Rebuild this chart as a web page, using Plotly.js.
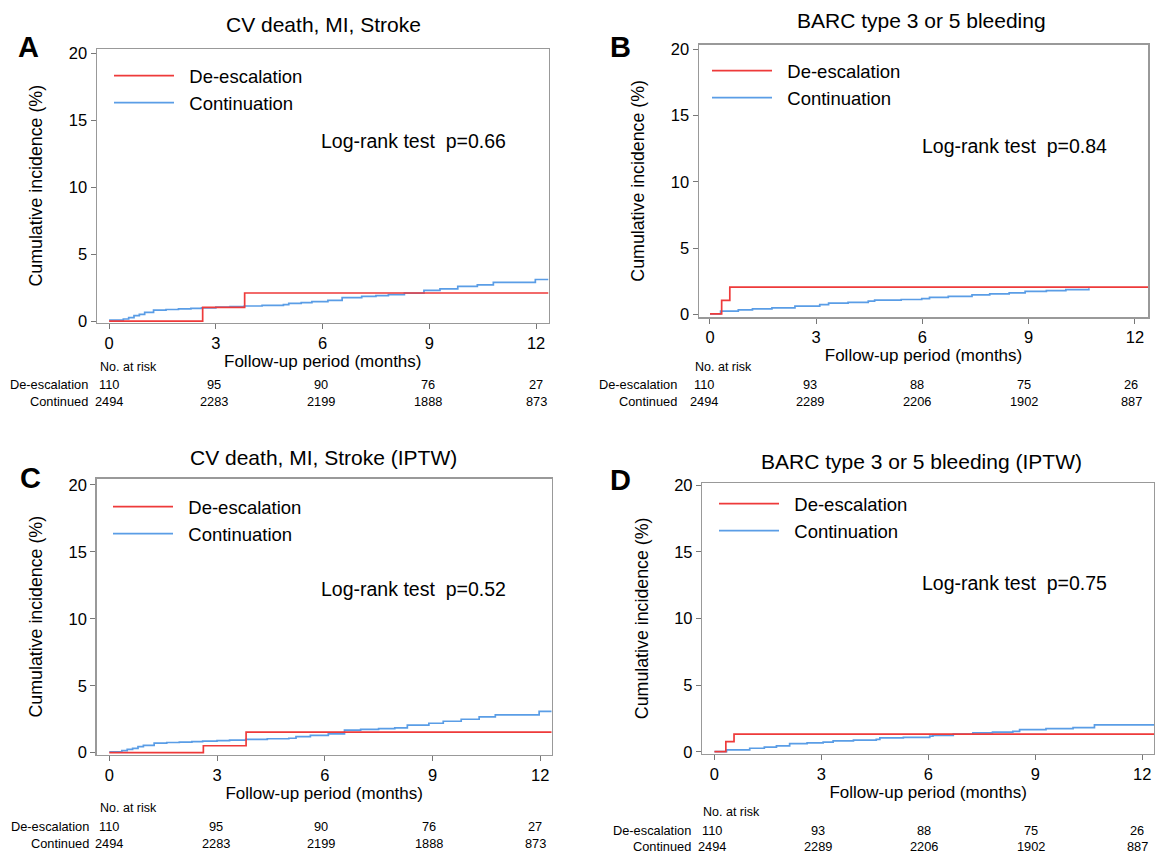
<!DOCTYPE html>
<html><head><meta charset="utf-8">
<script src="https://cdn.plot.ly/plotly-3.0.1.min.js"></script>
<style>html,body{margin:0;padding:0;background:#fff}#chart{width:1155px;height:853px}</style>
</head><body><div id="chart"></div>
<script>
// ---------------- DATA ----------------
const seriesNames = ['De-escalation', 'Continuation'];
const panelLetters = ['A', 'B', 'C', 'D'];
const panelTitles = ['CV death, MI, Stroke', 'BARC type 3 or 5 bleeding',
                     'CV death, MI, Stroke (IPTW)', 'BARC type 3 or 5 bleeding (IPTW)'];
const logRankP = ['0.66', '0.84', '0.52', '0.75'];
const xTickVals = [0, 3, 6, 9, 12];
const yTickVals = [0, 5, 10, 15, 20];
const xTitle = 'Follow-up period (months)';
const yTitle = 'Cumulative incidence (%)';
const riskHeader = 'No. at risk';
const riskRowLabels = ['De-escalation', 'Continued'];

// Numbers at risk (months 0, 3, 6, 9, 12)
const riskA_deesc = [110, 95, 90, 76, 27];
const riskA_cont  = [2494, 2283, 2199, 1888, 873];
const riskB_deesc = [110, 93, 88, 75, 26];
const riskB_cont  = [2494, 2289, 2206, 1902, 887];
const riskC_deesc = [110, 95, 90, 76, 27];
const riskC_cont  = [2494, 2283, 2199, 1888, 873];
const riskD_deesc = [110, 93, 88, 75, 26];
const riskD_cont  = [2494, 2289, 2206, 1902, 887];

// Panel A curves (months, cumulative incidence %)
const A_red_t  = [0, 2.63, 3.81, 12.35];
const A_red_y  = [0, 1.02, 2.09, 2.09];
const A_blue_t = [0, 0.4, 0.55, 0.7, 0.85, 1.0, 1.25, 1.6, 1.95, 2.3, 2.6, 3.0, 3.4, 3.8, 4.3, 4.9, 5.05, 5.4, 5.7, 6.15, 6.55, 7.1, 7.5, 7.85, 8.3, 8.85, 9.3, 9.8, 10.35, 10.8, 11.98, 12.35];
const A_blue_y = [0.07, 0.15, 0.25, 0.4, 0.5, 0.65, 0.82, 0.86, 0.9, 0.94, 0.98, 1.03, 1.07, 1.12, 1.17, 1.22, 1.32, 1.38, 1.45, 1.54, 1.75, 1.84, 1.9, 1.97, 2.08, 2.28, 2.4, 2.58, 2.7, 2.88, 3.1, 3.1];

// Panel B curves
const B_red_t  = [0, 0.33, 0.56, 12.37];
const B_red_y  = [0.05, 1.07, 2.06, 2.06];
const B_blue_t = [0, 0.3, 0.8, 1.2, 1.75, 2.4, 3.1, 3.35, 3.9, 4.47, 4.65, 5.4, 5.98, 6.2, 6.73, 7.4, 7.9, 8.45, 8.9, 9.5, 10.05, 10.7];
const B_blue_y = [0.05, 0.25, 0.35, 0.42, 0.5, 0.63, 0.74, 0.85, 0.92, 1.0, 1.09, 1.13, 1.2, 1.29, 1.37, 1.48, 1.55, 1.63, 1.75, 1.8, 1.88, 1.97];

// Panel C curves
const C_red_t  = [0, 2.62, 3.81, 12.32];
const C_red_y  = [0, 0.52, 1.54, 1.54];
const C_blue_t = [0, 0.35, 0.5, 0.65, 0.8, 0.95, 1.25, 1.6, 1.95, 2.3, 2.6, 3.0, 3.35, 3.8, 4.4, 5.0, 5.2, 5.6, 6.1, 6.55, 7.0, 7.5, 7.95, 8.3, 8.9, 9.3, 9.8, 10.3, 10.75, 11.97, 12.32];
const C_blue_y = [0.07, 0.15, 0.25, 0.33, 0.45, 0.55, 0.72, 0.76, 0.79, 0.83, 0.87, 0.9, 0.94, 1.0, 1.04, 1.08, 1.2, 1.3, 1.4, 1.68, 1.74, 1.8, 1.86, 2.06, 2.2, 2.35, 2.5, 2.68, 2.82, 3.08, 3.08];

// Panel D curves
const D_red_t  = [0, 0.32, 0.55, 12.33];
const D_red_y  = [0.02, 0.78, 1.33, 1.33];
const D_blue_t = [0, 0.34, 0.99, 1.4, 1.74, 2.11, 2.6, 3.05, 3.33, 3.9, 4.54, 4.64, 5.3, 6.04, 6.13, 6.7, 7.25, 7.8, 8.37, 8.56, 9.3, 10.06, 10.66, 12.33];
const D_blue_y = [0.02, 0.15, 0.28, 0.36, 0.45, 0.63, 0.68, 0.73, 0.83, 0.88, 0.95, 1.05, 1.1, 1.18, 1.25, 1.33, 1.43, 1.49, 1.55, 1.68, 1.75, 1.83, 2.03, 2.03];

// ---------------- LAYOUT / STYLE ----------------
const W = 1155, H = 853;
const px = x => x / W;
const py = y => 1 - y / H;
const FONT = 'Liberation Sans, Arial, sans-serif';
const RED = '#ee3a3a', BLUE = '#5a9de6';
const NB = '\u00a0\u00a0';

const panels = [
  {box: [97, 548.5, 49, 322.5],   xr: [-0.34, 12.35], yr: [-0.11, 20.3],
   red: [A_red_t, A_red_y], blue: [A_blue_t, A_blue_y], risk: [riskA_deesc, riskA_cont],
   letter: [28, 47], title: [323, 25], legend: [109, 57], lr: [319, 141],
   cols: [109, 214, 321, 428, 536], riskY: [367, 384, 401], rowLabelX: 90},
  {box: [699, 1148, 44.7, 317],   xr: [-0.31, 12.37], yr: [-0.19, 20.35],
   red: [B_red_t, B_red_y], blue: [B_blue_t, B_blue_y], risk: [riskB_deesc, riskB_cont],
   letter: [620, 47], title: [921, 20], legend: [707, 52], lr: [920, 146],
   cols: [704, 810, 917, 1024, 1131], riskY: [367, 384, 401], rowLabelX: 679},
  {box: [96.7, 551.7, 478.7, 754.7], xr: [-0.35, 12.32], yr: [-0.15, 20.47],
   red: [C_red_t, C_red_y], blue: [C_blue_t, C_blue_y], risk: [riskC_deesc, riskC_cont],
   letter: [30, 478], title: [323, 458], legend: [108, 488], lr: [319, 589],
   cols: [109, 216, 321, 429, 535], riskY: [808, 826, 843], rowLabelX: 91},
  {box: [702.3, 1154, 483, 753.7], xr: [-0.34, 12.33], yr: [-0.13, 20.15],
   red: [D_red_t, D_red_y], blue: [D_blue_t, D_blue_y], risk: [riskD_deesc, riskD_cont],
   letter: [620, 480], title: [921, 461], legend: [714, 485], lr: [920, 583],
   cols: [712, 818, 924, 1031, 1137], riskY: [812, 830, 846], rowLabelX: 693}
];

const data = [];
const layout = {
  width: W, height: H, autosize: false,
  margin: {l: 0, r: 0, t: 0, b: 0, pad: 0},
  paper_bgcolor: '#fff', plot_bgcolor: '#fff',
  font: {family: FONT, color: '#000'},
  showlegend: true,
  annotations: []
};

panels.forEach((p, i) => {
  const n = i === 0 ? '' : String(i + 1);
  const xa = 'xaxis' + n, ya = 'yaxis' + n, lg = 'legend' + n;
  const xref = 'x' + n, yref = 'y' + n;
  layout[xa] = {
    domain: [px(p.box[0]), px(p.box[1])], range: p.xr, anchor: yref,
    tickvals: xTickVals, ticktext: xTickVals.map(String),
    ticks: 'outside', ticklen: 5, tickwidth: 1, tickcolor: '#777',
    showline: true, mirror: true, linecolor: '#999', linewidth: 1.5,
    showgrid: false, zeroline: false, fixedrange: true,
    tickfont: {size: 16.5, family: FONT, color: '#000'},
    title: {text: xTitle, font: {size: 17, family: FONT, color: '#000'}, standoff: 4}
  };
  layout[ya] = {
    domain: [py(p.box[3]), py(p.box[2])], range: p.yr, anchor: xref,
    tickvals: yTickVals, ticktext: yTickVals.map(String),
    ticks: 'outside', ticklen: 5, tickwidth: 1, tickcolor: '#777',
    showline: true, mirror: true, linecolor: '#999', linewidth: 1.5,
    showgrid: false, zeroline: false, fixedrange: true,
    tickfont: {size: 16.5, family: FONT, color: '#000'},
    title: {text: yTitle, font: {size: 17.8, family: FONT, color: '#000'}, standoff: 21}
  };
  layout[lg] = {
    x: px(p.legend[0]), y: py(p.legend[1]), xanchor: 'left', yanchor: 'top',
    bgcolor: 'rgba(0,0,0,0)', borderwidth: 0,
    font: {size: 18.5, family: FONT, color: '#000'},
    itemwidth: 60, tracegroupgap: 0, traceorder: 'normal'
  };
  data.push({
    type: 'scatter', mode: 'lines', x: p.blue[0], y: p.blue[1], xaxis: xref, yaxis: yref,
    name: NB + seriesNames[1], legend: lg, legendrank: 2,
    line: {shape: 'hv', color: BLUE, width: 1.7}
  });
  data.push({
    type: 'scatter', mode: 'lines', x: p.red[0], y: p.red[1], xaxis: xref, yaxis: yref,
    name: NB + seriesNames[0], legend: lg, legendrank: 1,
    line: {shape: 'hv', color: RED, width: 1.7}
  });

  const ann = layout.annotations;
  ann.push({xref: 'paper', yref: 'paper', x: px(p.letter[0]), y: py(p.letter[1]),
    text: '<b>' + panelLetters[i] + '</b>', showarrow: false, xanchor: 'center', yanchor: 'middle',
    font: {size: 29, family: FONT, color: '#000'}});
  ann.push({xref: 'paper', yref: 'paper', x: px(p.title[0]), y: py(p.title[1]),
    text: panelTitles[i], showarrow: false, xanchor: 'center', yanchor: 'middle',
    font: {size: 21, family: FONT, color: '#000'}});
  ann.push({xref: 'paper', yref: 'paper', x: px(p.lr[0]), y: py(p.lr[1]),
    text: 'Log-rank test\u00a0\u00a0p=' + logRankP[i], showarrow: false, xanchor: 'left', yanchor: 'middle',
    font: {size: 19.5, family: FONT, color: '#000'}});
  // risk table
  ann.push({xref: 'paper', yref: 'paper', x: px(p.cols[0] - 11), y: py(p.riskY[0]),
    text: riskHeader, showarrow: false, xanchor: 'left', yanchor: 'middle',
    font: {size: 12.5, family: FONT, color: '#000'}});
  riskRowLabels.forEach((lab, r) => {
    ann.push({xref: 'paper', yref: 'paper', x: px(p.rowLabelX), y: py(p.riskY[r + 1]),
      text: lab, showarrow: false, xanchor: 'right', yanchor: 'middle',
      font: {size: 12.8, family: FONT, color: '#000'}});
    p.risk[r].forEach((v, c) => {
      ann.push({xref: 'paper', yref: 'paper', x: px(p.cols[c]), y: py(p.riskY[r + 1]),
        text: String(v), showarrow: false, xanchor: 'center', yanchor: 'middle',
        font: {size: 12.8, family: FONT, color: '#000'}});
    });
  });
});

Plotly.newPlot('chart', data, layout, {displayModeBar: false, staticPlot: true});
</script></body></html>
